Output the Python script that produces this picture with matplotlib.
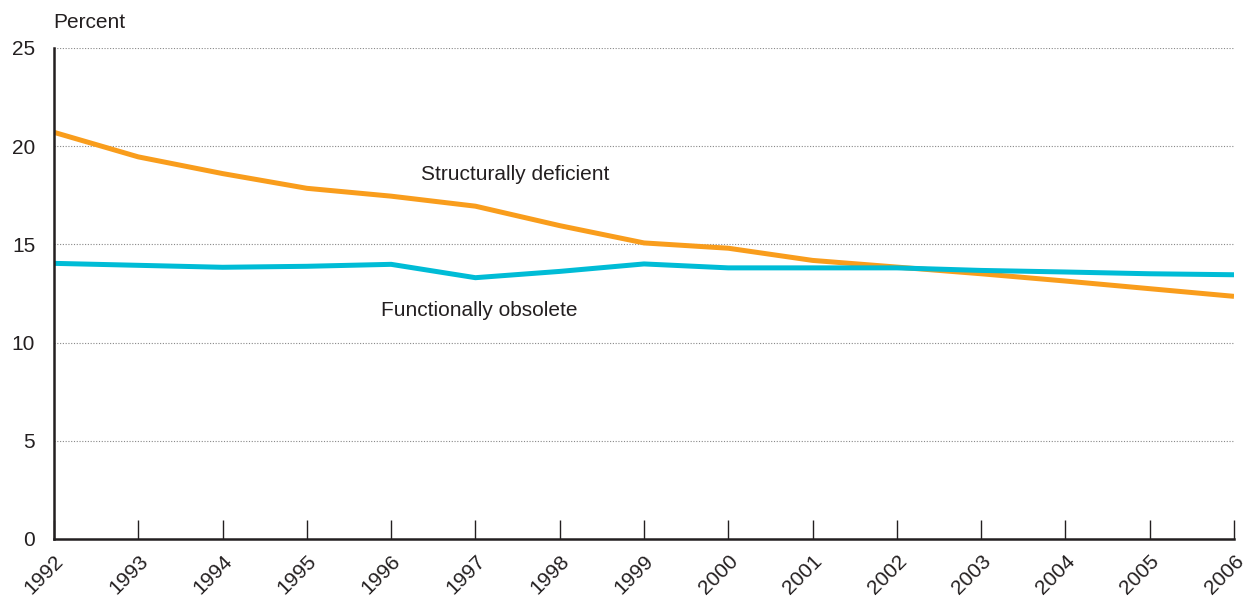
import matplotlib
matplotlib.use('Agg')
import matplotlib.pyplot as plt

years = list(range(1992, 2007))
structurally_deficient = [20.7, 19.45, 18.6, 17.85, 17.45, 16.94, 15.95, 15.07, 14.8,
                          14.18, 13.84, 13.5, 13.13, 12.74, 12.35]
functionally_obsolete = [14.03, 13.93, 13.83, 13.88, 13.98, 13.3, 13.62, 14.0, 13.8,
                         13.8, 13.8, 13.67, 13.59, 13.5, 13.45]
y_ticks = [0, 5, 10, 15, 20, 25]

ORANGE = '#F99D1C'
CYAN = '#00BCD6'
TEXT = '#231F20'
FS = 15

plt.rcParams['font.family'] = ['Liberation Sans', 'DejaVu Sans']

fig = plt.figure(figsize=(12.49, 5.98), dpi=100)
ax = fig.add_axes([0.0432, 0.0987, 0.9448, 0.8213])

# grid behind the lines
for y in y_ticks[1:]:
    ax.axhline(y, color='#888888', linestyle=(0, (1, 1.5)), linewidth=0.8, zorder=1)

ax.plot(years, structurally_deficient, color=ORANGE, linewidth=3.6, zorder=3,
        solid_capstyle='butt', solid_joinstyle='round')
ax.plot(years, functionally_obsolete, color=CYAN, linewidth=3.6, zorder=3,
        solid_capstyle='butt', solid_joinstyle='round')

ax.set_xlim(1992, 2006)
ax.set_ylim(0, 25)
ax.set_xticks(years)
ax.set_xticklabels([str(y) for y in years], rotation=45, ha='right', va='top',
                   rotation_mode='anchor', fontsize=FS, color=TEXT)
ax.set_yticks(y_ticks)
ax.set_yticklabels([str(y) for y in y_ticks], fontsize=FS, color=TEXT)

ax.tick_params(axis='x', direction='in', length=14, width=1, color=TEXT, pad=9)
ax.tick_params(axis='y', length=0, pad=13.5)

for side in ['top', 'right']:
    ax.spines[side].set_visible(False)
for side in ['left', 'bottom']:
    ax.spines[side].set_linewidth(1.8)
    ax.spines[side].set_color(TEXT)
    ax.spines[side].set_zorder(4)

ax.text(1996.36, 18.55, 'Structurally deficient', fontsize=FS, color=TEXT, va='center')
ax.text(1995.88, 11.64, 'Functionally obsolete', fontsize=FS, color=TEXT, va='center')
fig.text(0.0425, 0.963, 'Percent', fontsize=FS, color=TEXT, va='center')

plt.savefig('out.png', dpi=100)
